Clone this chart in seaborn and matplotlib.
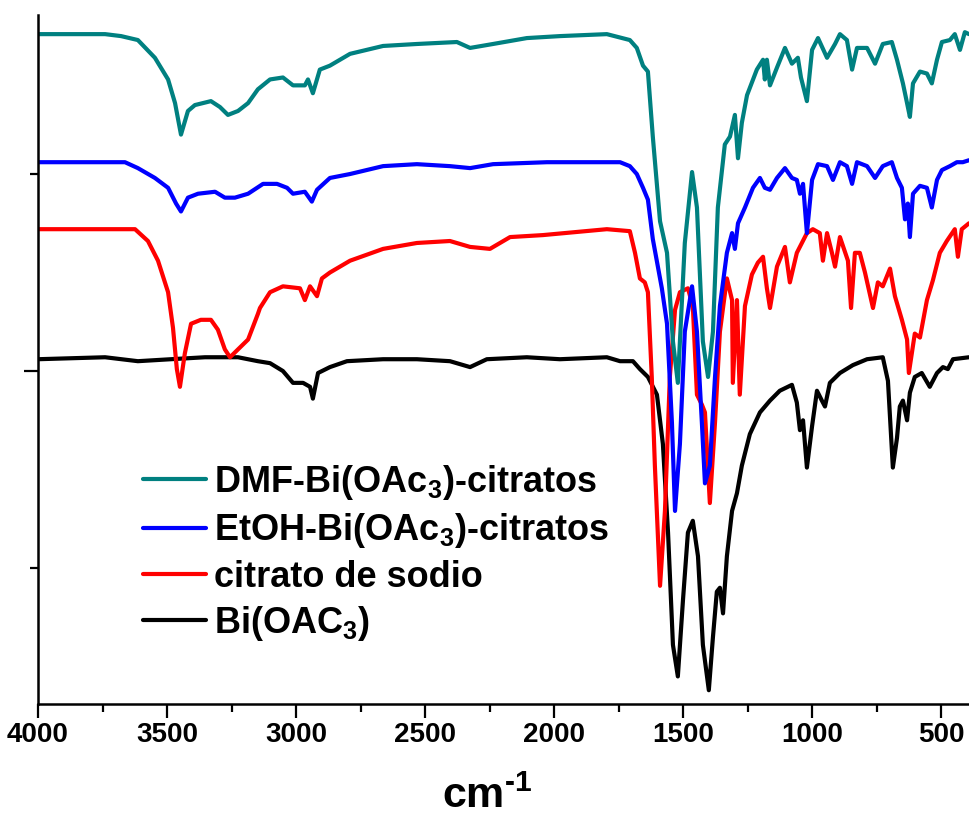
import matplotlib
matplotlib.use("Agg")
import matplotlib.pyplot as plt
import seaborn as sns
import pandas as pd
from matplotlib.ticker import MultipleLocator

# FTIR spectra (wavenumber in cm-1, offset transmittance in a.u.)
wn_dmf = [4000, 3740, 3678, 3613, 3547, 3496, 3469, 3446, 3419, 3392, 3330, 3295, 3264, 3225,
          3186, 3148, 3101, 3051, 3012, 2966, 2954, 2935, 2908, 2869, 2791, 2663, 2532, 2377,
          2326, 2237, 2106, 1978, 1796, 1707, 1680, 1656, 1637, 1618, 1590, 1563, 1540, 1521,
          1494, 1466, 1447, 1424, 1404, 1385, 1366, 1339, 1319, 1300, 1288, 1273, 1253, 1215,
          1191, 1184, 1176, 1164, 1137, 1106, 1079, 1056, 1044, 1021, 1001, 978, 943, 912,
          893, 866, 846, 827, 788, 757, 727, 692, 672, 649, 633, 622, 610, 583, 556, 537,
          517, 498, 467, 448, 428, 409, 393]
t_dmf = [371, 371, 370, 368, 359, 348, 336, 320, 332, 335, 337, 334, 330, 332,
         336, 343, 348, 349, 345, 345, 348, 341, 353, 355, 361, 365, 366, 367,
         364, 366, 369, 370, 371, 368, 364, 355, 352, 319, 276, 260, 215, 194,
         265, 301, 283, 215, 197, 220, 283, 315, 319, 330, 308, 326, 340, 353,
         358, 348, 358, 345, 354, 364, 356, 359, 349, 337, 363, 369, 359, 366,
         371, 368, 353, 364, 364, 356, 366, 367, 358, 346, 336, 329, 346, 352, 351, 346,
         358, 367, 368, 371, 363, 372, 371]

wn_etoh = [4000, 3663, 3613, 3547, 3496, 3465, 3446, 3419, 3380, 3314, 3276, 3237, 3186, 3128,
           3074, 3035, 3012, 2966, 2939, 2919, 2869, 2791, 2663, 2532, 2404, 2326, 2237, 2028,
           1850, 1745, 1707, 1680, 1656, 1637, 1618, 1583, 1563, 1544, 1532, 1513, 1494, 1466,
           1447, 1428, 1416, 1397, 1377, 1358, 1331, 1311, 1300, 1288, 1261, 1230, 1203, 1184,
           1164, 1137, 1106, 1079, 1060, 1048, 1036, 1021, 1001, 978, 943, 920, 893, 866,
           846, 827, 788, 757, 727, 692, 672, 653, 641, 630, 622, 610, 583, 556, 537, 517,
           498, 467, 440, 417, 393]
t_etoh = [306, 306, 303, 298, 293, 285, 281, 288, 290, 291, 288, 288, 290, 295,
          295, 293, 290, 291, 286, 292, 298, 300, 304, 305, 304, 303, 305, 306,
          306, 306, 304, 300, 293, 287, 267, 242, 224, 174, 129, 163, 220, 243,
          220, 174, 143, 152, 197, 233, 260, 270, 262, 275, 283, 293, 298, 293,
          292, 298, 303, 298, 297, 290, 295, 270, 297, 305, 304, 297, 306, 304,
          295, 306, 304, 298, 304, 306, 298, 293, 277, 285, 268, 290, 294, 293, 283, 297,
          302, 304, 306, 306, 307]

wn_cit = [4000, 3624, 3574, 3535, 3496, 3477, 3462, 3450, 3431, 3407, 3369, 3330, 3303, 3276,
          3256, 3225, 3186, 3148, 3140, 3101, 3051, 2985, 2966, 2946, 2919, 2900, 2869, 2791,
          2663, 2532, 2404, 2326, 2249, 2171, 2044, 1796, 1707, 1687, 1668, 1649, 1637, 1622,
          1610, 1590, 1571, 1552, 1532, 1513, 1482, 1463, 1447, 1428, 1416, 1397, 1377, 1358,
          1331, 1311, 1308, 1292, 1281, 1261, 1234, 1211, 1191, 1176, 1164, 1137, 1106, 1087,
          1060, 1021, 998, 971, 959, 943, 924, 912, 893, 862, 850, 835, 816, 796, 765, 746,
          727, 699, 680, 653, 633, 626, 603, 583, 556, 533, 506, 479, 448, 436, 421, 393]
t_cit = [272, 272, 266, 256, 240, 222, 201, 192, 209, 224, 226, 226, 221, 211,
         207, 211, 216, 229, 232, 240, 243, 242, 236, 243, 238, 247, 250, 256,
         262, 265, 266, 263, 262, 268, 269, 272, 271, 260, 247, 245, 240, 197,
         152, 91, 129, 197, 231, 240, 242, 233, 188, 183, 179, 133, 174, 220,
         247, 236, 194, 236, 188, 233, 249, 255, 258, 242, 232, 253, 263, 245,
         260, 270, 272, 270, 256, 270, 260, 253, 268, 256, 232, 260, 260, 250, 232, 245,
         243, 252, 238, 226, 216, 199, 219, 217, 236, 246, 260, 266, 272, 258, 272, 275]

wn_bi = [4000, 3740, 3613, 3485, 3353, 3225, 3148, 3101, 3051, 3012, 2973, 2946, 2935, 2915,
         2869, 2803, 2663, 2532, 2404, 2326, 2261, 2106, 1978, 1796, 1745, 1695, 1668, 1637,
         1602, 1579, 1559, 1540, 1521, 1501, 1482, 1463, 1443, 1424, 1401, 1385, 1370, 1358,
         1346, 1331, 1311, 1292, 1273, 1242, 1203, 1164, 1126, 1079, 1060, 1048, 1036, 1021,
         1001, 982, 963, 951, 932, 893, 843, 788, 727, 707, 688, 672, 661, 649, 633, 622,
         603, 576, 545, 517, 494, 475, 455, 393]
t_bi = [206, 207, 205, 206, 207, 207, 205, 204, 200, 194, 194, 192, 186, 199,
        202, 205, 206, 206, 205, 202, 206, 207, 206, 207, 205, 205, 201, 197,
        188, 163, 118, 61, 45, 84, 118, 124, 106, 61, 38, 65, 88, 90,
        77, 106, 129, 138, 152, 168, 179, 185, 190, 193, 184, 170, 175, 151,
        172, 190, 185, 182, 194, 199, 203, 206, 207, 195, 151, 166, 182, 185, 175, 189,
        197, 199, 192, 199, 202, 201, 206, 207]

labels = ["DMF-Bi(OAc$_3$)-citratos", "EtOH-Bi(OAc$_3$)-citratos",
          "citrato de sodio", "Bi(OAC$_3$)"]
colors = ["#008080", "#0000FF", "#FF0000", "#000000"]

sns.set_style("ticks")
plt.rcParams["font.family"] = ["Liberation Sans", "DejaVu Sans"]
plt.rcParams["font.weight"] = "bold"
plt.rcParams["text.color"] = "black"
plt.rcParams["axes.labelcolor"] = "black"
plt.rcParams["xtick.color"] = "black"
plt.rcParams["ytick.color"] = "black"
plt.rcParams["mathtext.fontset"] = "custom"
plt.rcParams["mathtext.rm"] = "Liberation Sans:bold"
plt.rcParams["mathtext.bf"] = "Liberation Sans:bold"
plt.rcParams["mathtext.it"] = "Liberation Sans:bold"
plt.rcParams["mathtext.default"] = "rm"

fig = plt.figure(figsize=(9.69, 8.21), dpi=100)
ax = fig.add_axes([0.0392, 0.1425, 0.9608, 0.8392])

series = [(wn_dmf, t_dmf), (wn_etoh, t_etoh), (wn_cit, t_cit), (wn_bi, t_bi)]
# draw from bottom trace to top trace
for i in [3, 2, 1, 0]:
    df = pd.DataFrame({"wn": series[i][0], "t": series[i][1]})
    sns.lineplot(data=df, x="wn", y="t", ax=ax, color=colors[i], lw=3,
                 label=labels[i], sort=False, estimator=None)

ax.set_xlim(4000, 393)
ax.set_ylim(31, 380.7)
ax.xaxis.set_major_locator(MultipleLocator(500))
ax.xaxis.set_minor_locator(MultipleLocator(250))
ax.yaxis.set_major_locator(MultipleLocator(200))
ax.yaxis.set_minor_locator(MultipleLocator(100))
ax.set_yticklabels([])
ax.tick_params(axis="both", which="major", length=10, width=1.6, direction="out")
ax.tick_params(axis="both", which="minor", length=5.5, width=1.6, direction="out")
ax.tick_params(axis="x", labelsize=20, pad=3)
for lab in ax.get_xticklabels():
    lab.set_fontweight("bold")
ax.set_ylabel("")
ax.set_xlabel("cm$^{\\text{-1}}$", fontsize=31, fontweight="bold")
ax.xaxis.set_label_coords(0.483, -0.105)
sns.despine(ax=ax)
for s in ["left", "bottom"]:
    ax.spines[s].set_linewidth(1.8)
    ax.spines[s].set_color("black")

handles, labs = ax.get_legend_handles_labels()
order = [3, 2, 1, 0]
leg = ax.legend([handles[k] for k in order], [labs[k] for k in order],
                loc="upper left", bbox_to_anchor=(0.113, 0.35), frameon=False,
                fontsize=26, handlelength=1.75, handletextpad=0.2,
                labelspacing=0.26, borderpad=0, borderaxespad=0)
for t in leg.get_texts():
    t.set_fontweight("bold")
    t.set_color("black")

fig.savefig("out.png", dpi=100)
